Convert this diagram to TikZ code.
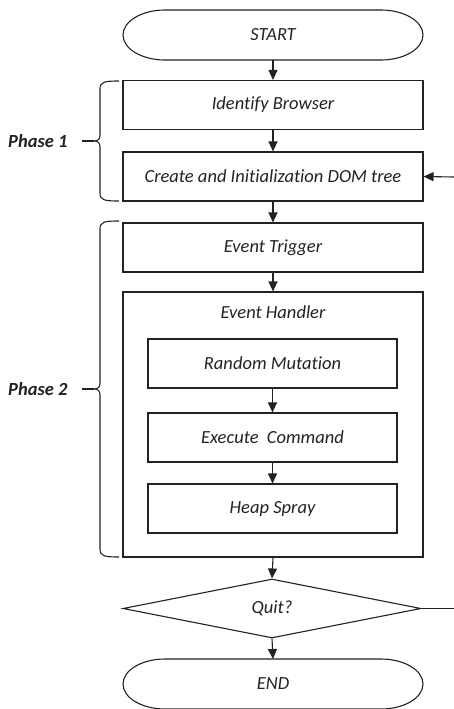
\documentclass[tikz,border=0pt]{standalone}
\usepackage{fontspec}
\setmainfont{Carlito}[Ligatures=NoCommon]
\usetikzlibrary{arrows.meta,shapes.geometric}
\definecolor{ink}{HTML}{222222}
\begin{document}
\begin{tikzpicture}[x=1pt,y=-1pt,
  every node/.style={font=\fontsize{18.5}{21}\selectfont\itshape, text=ink},
  stroke/.style={draw=ink, line width=1.1pt},
  box/.style={stroke, minimum width=300pt, minimum height=49pt, inner sep=0pt},
  inner/.style={stroke, minimum width=249pt, minimum height=49pt, inner sep=0pt},
  term/.style={minimum width=300pt, minimum height=50pt, inner sep=0pt, outer sep=0pt},
  decision/.style={stroke, diamond, aspect=5, minimum width=298pt, minimum height=59pt, inner sep=0pt},
  flow/.style={ink, line width=1.1pt, -{Triangle[length=10pt,width=9pt]}},
  phase/.style={font=\fontsize{18.5}{21}\selectfont\bfseries\itshape, anchor=east},
]
\useasboundingbox (0,0) rectangle (454,709);

% terminals (stadium outlines drawn around plain nodes)
\node[term] (start) at (273,35) {START};
\node[term] (end) at (273,684) {END};
\foreach \t in {start,end}{
  \draw[stroke] ([xshift=42pt]\t.north west) -- ([xshift=-42pt]\t.north east)
    arc[start angle=-90,end angle=90,x radius=42,y radius=25]
    -- ([xshift=42pt]\t.south west)
    arc[start angle=90,end angle=270,x radius=42,y radius=25] -- cycle;
}

% phase 1 steps
\node[box] (ident) at (273,105) {Identify\ Browser};
\node[box] (dom) at (273,176.5) {Create and\ Initialization\ DOM tree};

% phase 2 steps
\node[box] (trig) at (273,247.5) {Event\ Trigger};
\node[stroke, minimum width=300pt, minimum height=265pt, inner sep=0pt] (handler) at (273,424.5) {};
\node (hlabel) at (273,312) {Event\ Handler};
\node[inner] (rand) at (272.5,363.5) {Random\ Mutation};
\node[inner] (exec) at (272.5,437.5) {Execute\ \ Command};
\node[inner] (heap) at (272.5,508.5) {Heap Spray};

% decision
\node[decision] (quit) at (272,608.5) {Quit?};

% loop ends at the right edge
\coordinate (loopin) at (454,177);
\coordinate (loopout) at (454,608.5);

% connectors
\draw[flow] (start.south) -- (ident.north);
\draw[flow] (ident) -- (dom);
\draw[flow] (dom) -- (trig);
\draw[flow] (trig) -- (handler.north);
\draw[flow] (rand) -- (exec);
\draw[flow] (exec) -- (heap);
\draw[flow] (handler.south) -- (quit.north);
\draw[flow] (quit.south) -- (end.north);
\draw[flow] (loopin) -- (dom.east);
\draw[stroke] (quit.east) -- (loopout);

% phase braces
\foreach \ya/\yb/\ym in {81/201/141, 221/557/389}{
  \draw[stroke] (119,\ya) .. controls (104,\ya) and (100,\ya+1) .. (100,\ya+8)
    -- (100,\ym-6) .. controls (100,\ym-2) and (98,\ym) .. (94,\ym)
    .. controls (98,\ym) and (100,\ym+2) .. (100,\ym+6)
    -- (100,\yb-8) .. controls (100,\yb-1) and (104,\yb) .. (119,\yb);
  \draw[stroke] (94,\ym) -- (82,\ym);
}
\node[phase] (p1) at (71,141) {Phase 1};
\node[phase] (p2) at (71,389) {Phase 2};
\end{tikzpicture}
\end{document}
